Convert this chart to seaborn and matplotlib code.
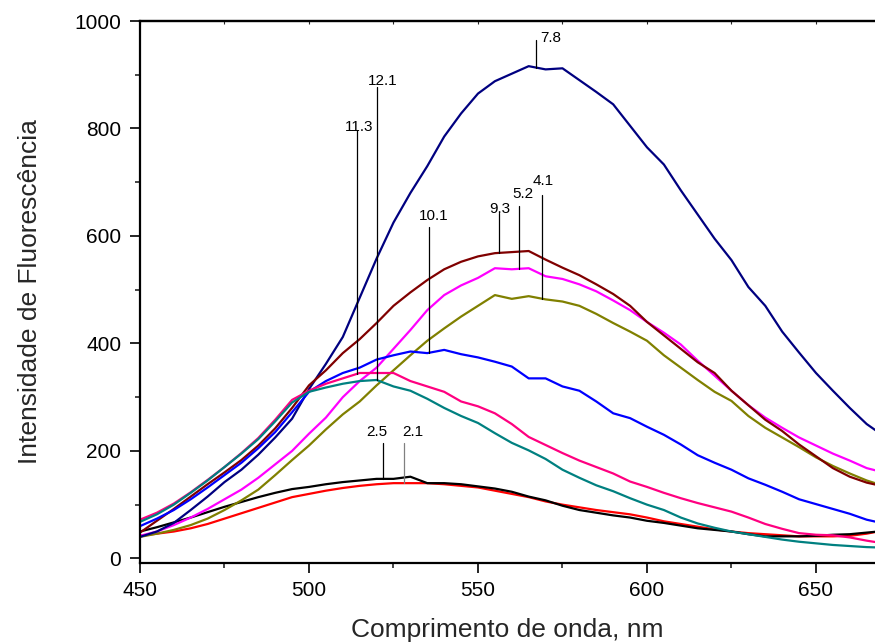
import numpy as np
import pandas as pd
import matplotlib
matplotlib.use("Agg")
import matplotlib.pyplot as plt
import seaborn as sns
from matplotlib.ticker import MultipleLocator

# Emission wavelength grid (nm)
wavelength = [450, 455, 460, 465, 470, 475, 480, 485, 490, 495,
              500, 505, 510, 515, 520, 525, 530, 535, 540, 545,
              550, 555, 560, 565, 570, 575, 580, 585, 590, 595,
              600, 605, 610, 615, 620, 625, 630, 635, 640, 645,
              650, 655, 660, 665, 670]

# Fluorescence intensity spectra, one per pH
ph_2_1 = [42, 46, 50, 56, 64, 74, 84, 94, 104, 114,
          120, 126, 131, 135, 138, 140, 140, 140, 138, 135,
          132, 126, 120, 114, 106, 100, 95, 90, 86, 82,
          76, 69, 64, 59, 54, 50, 47, 45, 43, 41,
          41, 41, 42, 46, 52]
ph_2_5 = [50, 58, 67, 76, 86, 96, 105, 114, 122, 129,
          133, 138, 142, 145, 148, 148, 152, 140, 140, 138,
          134, 130, 124, 115, 108, 98, 90, 85, 80, 76,
          70, 66, 61, 56, 53, 50, 45, 41, 41, 41,
          42, 44, 45, 48, 51]
ph_4_1 = [40, 46, 53, 62, 74, 90, 108, 128, 155, 183,
          210, 240, 268, 292, 322, 350, 378, 405, 428, 450,
          470, 490, 483, 488, 482, 478, 470, 455, 438, 422,
          405, 378, 355, 332, 310, 293, 265, 243, 225, 207,
          188, 172, 158, 145, 135]
ph_5_2 = [42, 50, 62, 76, 92, 110, 128, 150, 175, 200,
          232, 262, 300, 330, 355, 390, 425, 462, 490, 508,
          522, 540, 538, 540, 525, 520, 510, 497, 480, 462,
          440, 420, 398, 368, 340, 312, 285, 262, 243, 225,
          210, 195, 182, 168, 160]
ph_7_8 = [40, 50, 66, 90, 115, 142, 165, 193, 225, 260,
          315, 362, 412, 485, 558, 625, 680, 730, 785, 828,
          865, 888, 902, 916, 910, 912, 890, 868, 845, 805,
          765, 733, 685, 640, 595, 555, 505, 470, 422, 383,
          345, 312, 280, 250, 228]
ph_9_3 = [48, 70, 92, 115, 138, 160, 183, 210, 242, 280,
          322, 350, 382, 408, 438, 470, 495, 518, 538, 552,
          562, 568, 570, 572, 556, 541, 527, 510, 492, 470,
          440, 415, 390, 365, 345, 312, 285, 258, 237, 212,
          190, 168, 152, 141, 134]
ph_10_1 = [60, 74, 90, 110, 132, 155, 178, 205, 235, 272,
           310, 330, 345, 355, 370, 378, 385, 382, 388, 380,
           374, 366, 357, 335, 335, 320, 312, 292, 270, 261,
           245, 230, 212, 192, 178, 165, 149, 137, 124, 110,
           101, 92, 83, 72, 65]
ph_11_3 = [72, 85, 102, 123, 146, 170, 196, 224, 258, 295,
           312, 325, 335, 345, 345, 345, 330, 320, 310, 292,
           283, 270, 250, 226, 211, 196, 182, 170, 158, 143,
           133, 122, 112, 103, 95, 87, 76, 64, 55, 47,
           44, 43, 39, 33, 28]
ph_12_1 = [68, 82, 100, 122, 145, 170, 195, 222, 255, 290,
           310, 318, 325, 330, 332, 320, 312, 297, 280, 265,
           252, 233, 215, 201, 185, 165, 150, 136, 125, 112,
           100, 90, 76, 65, 57, 50, 45, 40, 35, 31,
           28, 25, 23, 21, 20]

ph_labels = ["2.1", "2.5", "4.1", "5.2", "7.8", "9.3", "10.1", "11.3", "12.1"]
spectra = [ph_2_1, ph_2_5, ph_4_1, ph_5_2, ph_7_8, ph_9_3, ph_10_1, ph_11_3, ph_12_1]
line_colors = ["#ff0000", "#000000", "#808000", "#ff00ff", "#000080",
               "#800000", "#0000ff", "#ff0080", "#008080"]

df = pd.concat(
    [pd.DataFrame({"wl": wavelength, "I": s, "pH": lab}) for lab, s in zip(ph_labels, spectra)],
    ignore_index=True,
)

sns.set_theme(style="ticks")
plt.rcParams["font.family"] = ["Liberation Sans", "DejaVu Sans"]

fig = plt.figure(figsize=(8.75, 6.43), dpi=100)
ax = fig.add_axes([0.16, 0.1249, 0.84, 0.8424])

sns.lineplot(data=df, x="wl", y="I", hue="pH", hue_order=ph_labels,
             palette=dict(zip(ph_labels, line_colors)), linewidth=1.6,
             legend=False, ax=ax, sort=False)

# pH call-outs: (label, x of pointer, top of pointer, text x, text baseline, halign, colour)
callouts = [
    ("7.8", 567.1, 965, 568.3, 961, "left", "black"),
    ("12.1", 520.2, 877, 521.7, 881, "center", "black"),
    ("11.3", 514.1, 797, 514.8, 795, "center", "black"),
    ("10.1", 535.6, 616, 536.8, 630, "center", "black"),
    ("9.3", 556.2, 642, 556.5, 642, "center", "black"),
    ("5.2", 562.2, 656, 563.2, 671, "center", "black"),
    ("4.1", 569.0, 676, 569.2, 694, "center", "black"),
    ("2.5", 522.0, 215, 520.1, 227, "center", "black"),
    ("2.1", 528.1, 214, 530.6, 227, "center", "#808080"),
]
for lab, px, ptop, tx, ty, ha, col in callouts:
    series = spectra[ph_labels.index(lab)]
    ybot = np.interp(px, wavelength, series)
    ax.plot([px, px], [ybot, ptop], color=col, lw=0.9, zorder=5)
    ax.text(tx, ty, lab, ha=ha, va="baseline", fontsize=11, color="black")

ax.set_xlim(450, 667.46)
ax.set_ylim(-8, 1000)
ax.xaxis.set_major_locator(MultipleLocator(50))
ax.xaxis.set_minor_locator(MultipleLocator(25))
ax.yaxis.set_major_locator(MultipleLocator(200))
ax.yaxis.set_minor_locator(MultipleLocator(100))

ax.tick_params(which="major", direction="out", length=7.5, width=1.2,
               labelsize=15, pad=6, colors="black")
ax.tick_params(which="minor", direction="out", length=3.8, width=1.2)

for side in ["left", "bottom", "top"]:
    ax.spines[side].set_linewidth(1.6)
    ax.spines[side].set_color("black")
ax.spines["right"].set_visible(False)

# small inward ticks along the top frame
top = ax.secondary_xaxis("top")
top.xaxis.set_major_locator(MultipleLocator(25))
top.tick_params(direction="in", length=2, width=0.8, labeltop=False)
top.spines["top"].set_linewidth(1.6)

ax.set_xlabel("Comprimento de onda, nm", fontsize=19)
ax.set_ylabel("Intensidade de Fluorescência", fontsize=19)
ax.xaxis.label.set_va("center")
ax.yaxis.label.set_va("center")
ax.xaxis.set_label_coords(0.5, -0.124)
ax.yaxis.set_label_coords(-0.1497, 0.5)

fig.savefig("out.png", dpi=100)
